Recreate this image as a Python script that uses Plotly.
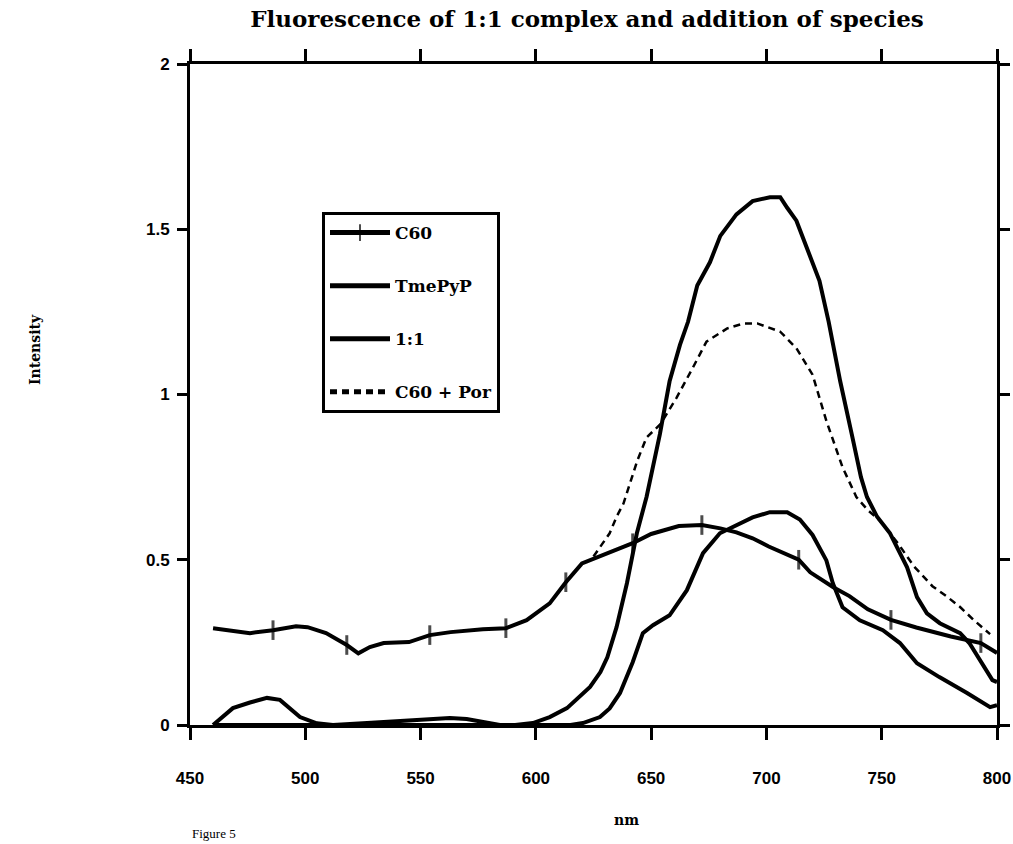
import plotly.graph_objects as go

# ---------------- data ----------------
c60_nm = [460, 468, 476, 486, 496, 501, 509, 518, 523, 528, 534, 545, 554, 563, 577, 587,
          596, 606, 613, 620, 631, 637, 642, 650, 662, 672, 680, 687, 694, 701, 714, 719,
          724, 729, 736, 744, 754, 765, 780, 793, 800]
c60_val = [0.293, 0.285, 0.278, 0.287, 0.299, 0.296, 0.278, 0.242, 0.217, 0.236, 0.248, 0.251,
           0.272, 0.281, 0.290, 0.293, 0.317, 0.368, 0.432, 0.489, 0.520, 0.538, 0.550, 0.578,
           0.602, 0.605, 0.595, 0.583, 0.565, 0.540, 0.500, 0.462, 0.440, 0.417, 0.390, 0.350,
           0.318, 0.295, 0.268, 0.248, 0.218]
c60_tick = [0, 0, 0, 1, 0, 0, 0, 1, 0, 0, 0, 0, 1, 0, 0, 1,
            0, 0, 1, 0, 0, 0, 1, 0, 0, 1, 0, 0, 0, 0, 1, 0,
            0, 0, 0, 0, 1, 0, 0, 1, 0]

tme_nm = [460, 500, 560, 600, 615, 620.4, 627.8, 632, 636.5, 642, 646.4, 650.8, 658, 665.5,
          672.5, 679.8, 687, 694, 701.5, 709, 714.5, 720, 726, 728.8, 733, 740.5, 750.5, 757.9,
          765.3, 775, 787, 797, 800]
tme_val = [0, 0, 0, 0, 0, 0.006, 0.024, 0.05, 0.097, 0.19, 0.278, 0.302, 0.332, 0.408,
           0.52, 0.58, 0.604, 0.628, 0.644, 0.644, 0.622, 0.575, 0.498, 0.429, 0.356, 0.317,
           0.287, 0.248, 0.187, 0.145, 0.097, 0.054, 0.06]

one_nm = [460, 468.6, 476, 483.4, 489, 497.7, 505, 512, 526.8, 548.4, 562.7, 570, 577, 584.4,
          591, 598.7, 606, 613.5, 623.5, 628, 631, 635, 639.5, 643.8, 648, 653.8, 658, 662.5,
          666, 670, 675.5, 680, 687, 694, 701.5, 706, 709, 713, 717.5, 723, 727, 732, 737, 741,
          743.6, 748, 753.6, 761, 765.3, 769.6, 775.2, 784, 788, 792.6, 798, 800]
one_val = [0, 0.051, 0.068, 0.082, 0.076, 0.024, 0.005, 0, 0.006, 0.015, 0.021, 0.018, 0.009, 0,
           0, 0.006, 0.024, 0.051, 0.115, 0.16, 0.205, 0.296, 0.429, 0.58, 0.69, 0.88, 1.04, 1.15,
           1.22, 1.33, 1.40, 1.48, 1.545, 1.585, 1.597, 1.597, 1.565, 1.526, 1.444, 1.344, 1.22,
           1.04, 0.88, 0.75, 0.69, 0.63, 0.58, 0.477, 0.387, 0.338, 0.308, 0.278, 0.248, 0.196,
           0.136, 0.13]

sum_nm = [625, 632, 635, 638, 644, 648, 654, 661, 668, 674, 683, 690, 696, 706, 713, 720, 726,
          733, 739, 744, 749, 757, 764, 772, 778, 784, 790, 797]
sum_val = [0.51, 0.58, 0.63, 0.67, 0.80, 0.87, 0.91, 0.99, 1.08, 1.16, 1.20, 1.215, 1.215, 1.19,
           1.14, 1.06, 0.92, 0.78, 0.69, 0.65, 0.62, 0.55, 0.48, 0.42, 0.39, 0.357, 0.317, 0.275]

x_ticks = [450, 500, 550, 600, 650, 700, 750, 800]
y_ticks = [0, 0.5, 1, 1.5, 2]
y_tick_text = ["0", "0.5", "1", "1.5", "2"]

title_text = "Fluorescence of 1:1 complex and addition of species"

# ---------------- figure ----------------
W, H = 1013, 844
ML, MR, MT, MB = 190, 16, 64, 119
PW, PH = W - ML - MR, H - MT - MB

fig = go.Figure()

fig.add_trace(go.Scatter(
    x=c60_nm, y=c60_val, name="C60", mode="lines+markers",
    line=dict(color="black", width=4),
    marker=dict(symbol="line-ns", size=[14 if t else 0 for t in c60_tick],
                color="black", line=dict(color="black", width=3)),
    legendgroup="a"))
fig.add_trace(go.Scatter(
    x=tme_nm, y=tme_val, name="TmePyP", mode="lines",
    line=dict(color="black", width=4), legendgroup="b"))
fig.add_trace(go.Scatter(
    x=one_nm, y=one_val, name="1:1", mode="lines",
    line=dict(color="black", width=4), legendgroup="c"))
fig.add_trace(go.Scatter(
    x=sum_nm, y=sum_val, name="C60 + Por", mode="lines",
    line=dict(color="black", width=2.5, dash="7px,5px"), legendgroup="d"))

tickfont = dict(family="Liberation Sans Narrow, Liberation Sans, Arial", size=17,
                color="black", weight="bold")
axis_common = dict(showgrid=False, zeroline=False, showline=True, linecolor="black",
                   linewidth=3, ticks="outside", tickcolor="black", tickwidth=2.5,
                   mirror="ticks", tickfont=tickfont)

fig.update_layout(
    width=W, height=H,
    margin=dict(l=ML, r=MR, t=MT, b=MB, autoexpand=False),
    paper_bgcolor="white", plot_bgcolor="white",
    title=dict(text=title_text, x=587 / W, xanchor="center", y=1 - 19 / H, yanchor="middle",
               font=dict(family="DejaVu Serif", size=23, color="black", weight="bold")),
    xaxis=dict(range=[450, 800], tickvals=x_ticks, ticklen=12, ticklabelstandoff=24,
               **axis_common),
    yaxis=dict(range=[0, 2], tickvals=y_ticks, ticktext=y_tick_text, ticklen=10,
               ticklabelstandoff=4, **axis_common),
    showlegend=True,
    legend=dict(x=(322 - ML) / PW, y=(725 - 212) / PH, xanchor="left", yanchor="top",
                bgcolor="white", bordercolor="black", borderwidth=3,
                font=dict(family="DejaVu Serif", size=17, color="black", weight="bold"),
                tracegroupgap=28, itemwidth=60, itemsizing="constant"),
    annotations=[
        dict(text="Intensity", xref="paper", yref="paper", x=(35 - ML) / PW,
             y=(725 - 350) / PH, textangle=-90, showarrow=False, xanchor="center",
             yanchor="middle",
             font=dict(family="DejaVu Serif", size=14, color="black", weight="bold")),
        dict(text="nm", xref="paper", yref="paper", x=(626 - ML) / PW, y=(725 - 820) / PH,
             showarrow=False, xanchor="center", yanchor="middle",
             font=dict(family="DejaVu Serif", size=14, color="black", weight="bold")),
        dict(text="Figure 5", xref="paper", yref="paper", x=(190 - ML) / PW,
             y=(725 - 843) / PH, showarrow=False, xanchor="left", yanchor="bottom",
             font=dict(family="Liberation Serif", size=13, color="black")),
    ],
)

fig.write_html("out.html")
